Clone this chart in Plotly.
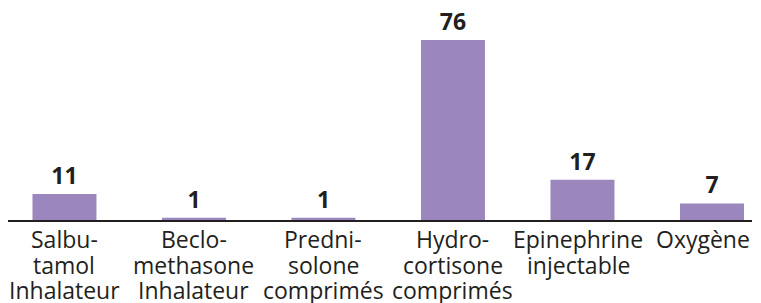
import plotly.graph_objects as go

categories = ["Salbutamol", "Beclomethasone", "Prednisolone", "Hydrocortisone", "Epinephrine", "Oxygène"]
tick_lines = [
    ["Salbu-", "tamol", "Inhalateur"],
    ["Beclo-", "methasone", "Inhalateur"],
    ["Predni-", "solone", "comprimés"],
    ["Hydro-", "cortisone", "comprimés"],
    ["Epinephrine", "injectable"],
    ["Oxygène"],
]
values = [11, 1, 1, 76, 17, 7]
value_labels = ["11", "1", "1", "76", "17", "7"]

INK = "#231f20"
BAR = "#9b86bd"
FONT = "Open Sans"

fig = go.Figure(
    go.Bar(
        x=categories,
        y=values,
        text=value_labels,
        textposition="outside",
        textfont=dict(family=FONT, size=23, color=INK, weight="bold"),
        marker=dict(color=BAR, line=dict(width=0)),
        width=0.494,
        cliponaxis=False,
    )
)

line_shifts = [-19, -44.5, -70]
label_xshift = [0, 0, 0, 0, -4, -9]
for cat, lines, xs in zip(categories, tick_lines, label_xshift):
    for k, line in enumerate(lines):
        fig.add_annotation(
            x=cat, xref="x",
            y=0, yref="paper",
            yanchor="middle", xanchor="center",
            yshift=line_shifts[k],
            xshift=xs,
            text=line,
            showarrow=False,
            font=dict(family=FONT, size=23, color=INK),
        )

# page body adds an 8px margin, so the figure is sized to fit the window
fig.update_layout(
    width=753,
    height=295,
    margin=dict(l=0, r=9, t=2, b=83, autoexpand=False),
    paper_bgcolor="white",
    plot_bgcolor="white",
    showlegend=False,
    xaxis=dict(
        type="category",
        range=[-0.436, 5.309],
        showline=True,
        linecolor=INK,
        linewidth=2,
        ticks="",
        showticklabels=False,
        showgrid=False,
        zeroline=False,
        automargin=False,
        fixedrange=True,
    ),
    yaxis=dict(
        range=[0, 88.67],
        visible=False,
        showgrid=False,
        zeroline=False,
        automargin=False,
        fixedrange=True,
    ),
)

fig.write_html("out.html")
